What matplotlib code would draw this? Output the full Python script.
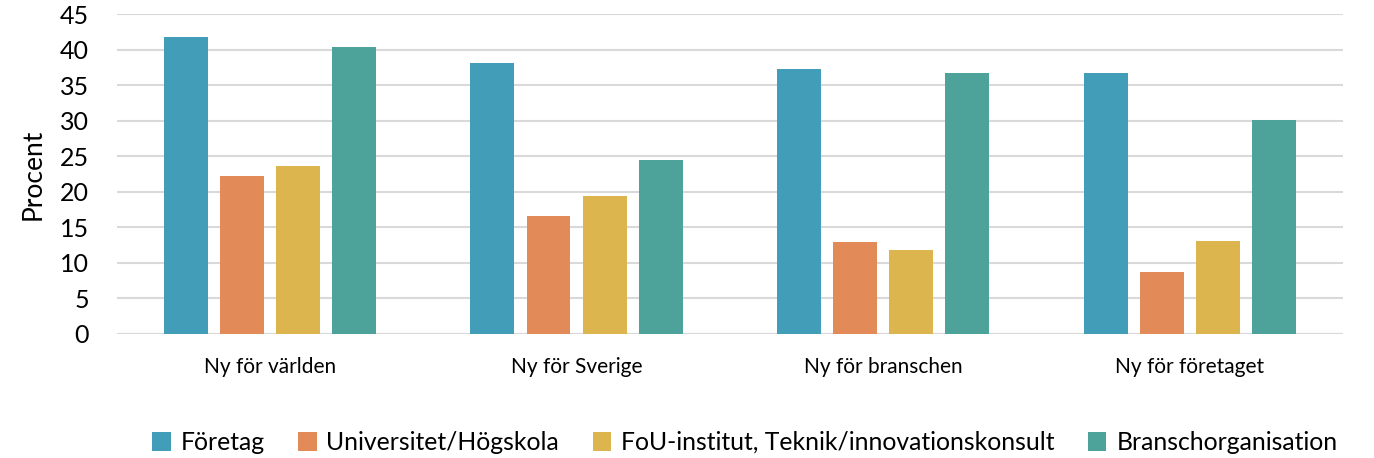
import matplotlib
matplotlib.use("Agg")
import matplotlib.pyplot as plt
import numpy as np
from matplotlib.patches import Patch

plt.rcParams['font.family'] = ['Lato', 'DejaVu Sans']

categories = ["Ny för världen", "Ny för Sverige", "Ny för branschen", "Ny för företaget"]
series_names = ["Företag", "Universitet/Högskola", "FoU-institut, Teknik/innovationskonsult", "Branschorganisation"]
foretag = [41.8, 38.1, 37.3, 36.7]
universitet = [22.2, 16.6, 12.9, 8.7]
fou = [23.6, 19.4, 11.8, 13.1]
bransch = [40.4, 24.5, 36.7, 30.1]
yticks = [0, 5, 10, 15, 20, 25, 30, 35, 40, 45]

colors = ["#429EB8", "#E38B58", "#DDB54F", "#4DA39A"]
series = [foretag, universitet, fou, bransch]

fig = plt.figure(figsize=(13.74, 4.58), dpi=100)
ax = fig.add_axes([0.0849, 0.271, 0.8926, 0.698])

x = np.arange(len(categories))
pitch = 0.183
width = 0.143
for i, (vals, c) in enumerate(zip(series, colors)):
    ax.bar(x + (i - 1.5) * pitch, vals, width, color=c, zorder=3)

ax.set_xlim(-0.5, len(categories) - 0.5)
ax.set_ylim(0, 45)
ax.set_yticks(yticks)
ax.set_yticklabels([str(t) for t in yticks], fontsize=18)
ax.set_xticks(x)
ax.set_xticklabels(categories, fontsize=15)
ax.tick_params(axis='y', length=0, pad=20)
ax.tick_params(axis='x', length=0, pad=17)
ax.grid(axis='y', color='#D9D9D9', linewidth=1.5, zorder=0)
for s in ax.spines.values():
    s.set_visible(False)
ax.axhline(0, color='#D9D9D9', linewidth=1.5, zorder=2)
ax.set_ylabel("Procent", fontsize=19, labelpad=10)

handles = [Patch(facecolor=c) for c in colors]
fig.legend(handles, series_names, loc='lower center', ncol=4, bbox_to_anchor=(0.542, -0.04),
           frameon=False, fontsize=17.8, handlelength=0.75, handleheight=0.75,
           handletextpad=0.4, columnspacing=1.35)

fig.savefig("out.png", dpi=100)
